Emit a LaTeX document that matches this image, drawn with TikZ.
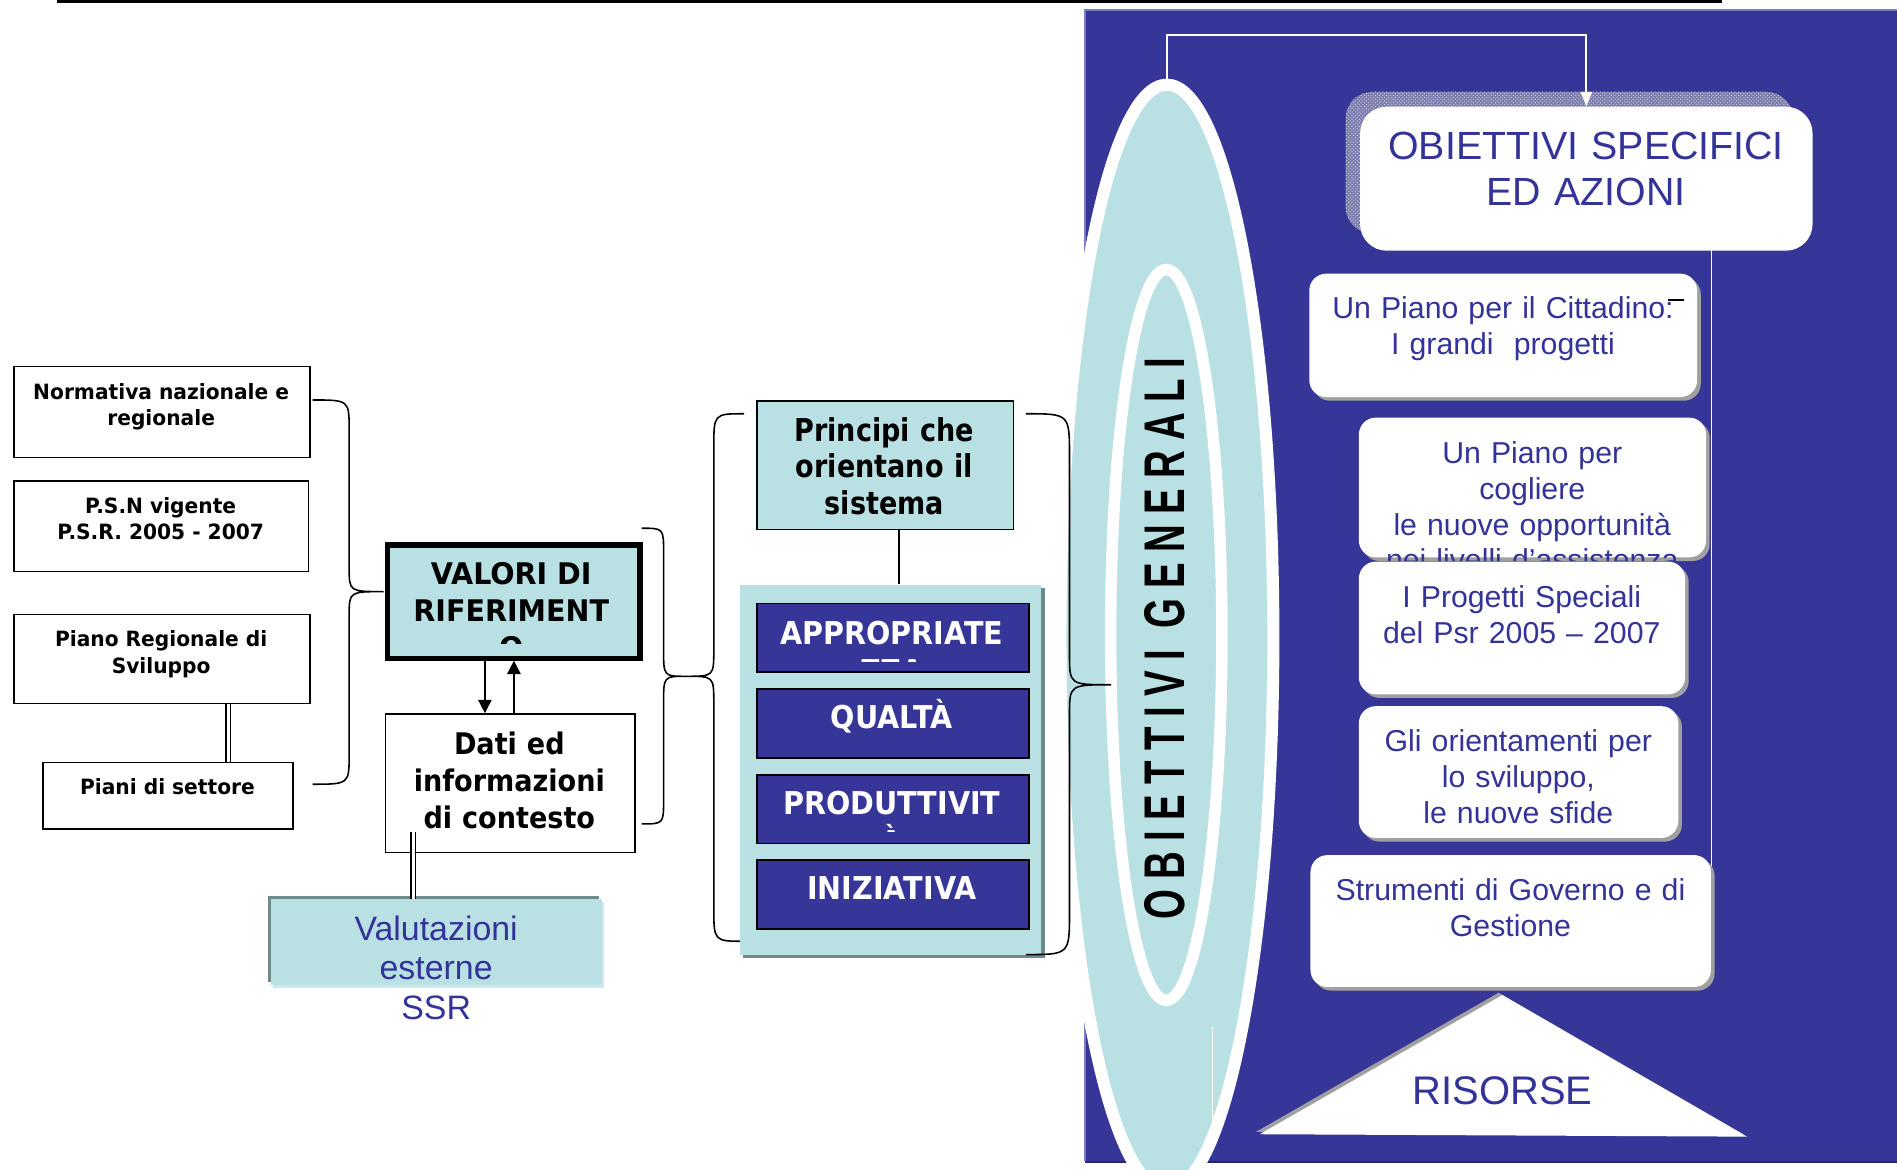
\documentclass[tikz,border=0pt]{standalone}
\usepackage{fontspec}
\setmainfont{Liberation Sans}
\newfontfamily\vbf{DejaVu Sans}[FakeStretch=0.96]
\newfontfamily\mbf{DejaVu Sans}[FakeStretch=0.91]
\newfontfamily\tbf{DejaVu Sans}[FakeStretch=0.86]
\newfontfamily\gbf{Liberation Sans}[FakeStretch=0.67]
\usetikzlibrary{arrows.meta,patterns,shapes.geometric,shadows}
\definecolor{cy}{HTML}{B9E0E3}
\definecolor{pb}{HTML}{363698}
\definecolor{txb}{HTML}{333399}
\definecolor{shd}{HTML}{6E8A8A}
\definecolor{lcy}{HTML}{CDE9EB}
\definecolor{lav}{HTML}{7B7BC0}
\definecolor{osh}{HTML}{7E7EAE}
\definecolor{gsh}{HTML}{A0A0A0}
\definecolor{dkb}{HTML}{26266E}
\newcommand\gk{\kern8.5pt}
\newcommand\mybrace[8]{\draw[brc] (#1,#2) .. controls (#3,#2) .. (#3,{#2+#7}) -- (#3,{#5-#8}) .. controls (#3,#5) .. (#4,#5) .. controls (#3,#5) .. (#3,{#5+#8}) -- (#3,{#6-#7}) .. controls (#3,#6) .. (#1,#6);}
\begin{document}
\begin{tikzpicture}[x=1pt,y=-1pt,
  lbox/.style={draw=black, line width=1.3pt, fill=white, inner sep=0pt, anchor=north west},
  ltxt/.style={font=\vbf\bfseries\fontsize{17.4}{22}\selectfont, align=center, text width=240pt, anchor=base, inner sep=0pt},
  cbox/.style={draw=black, line width=1.3pt, fill=cy, inner sep=0pt, anchor=north west},
  bbox/.style={draw=black, line width=1.5pt, fill=pb, inner sep=0pt, anchor=north west, minimum width=224.5pt, minimum height=57pt},
  btxt/.style={font=\mbf\bfseries\fontsize{26}{32}\selectfont, text=white, align=center, text width=224pt, anchor=base, inner sep=0pt},
  rbox/.style={fill=white, rounded corners=14pt, inner sep=0pt, anchor=north west, drop shadow={shadow xshift=3pt, shadow yshift=-3pt, fill=gsh, opacity=1}},
  rtxt/.style={font=\fontsize{25}{29.5}\selectfont, text=txb, align=center, text width=330pt, anchor=base, inner sep=0pt},
  brc/.style={draw=black, line width=1.3pt},
  dbl/.style={draw=black, double=white, double distance=2.4pt, line width=1.2pt},
  arr/.style={draw=black, line width=1.3pt, -{Triangle[length=11pt,width=11pt]}},
]
\useasboundingbox (0,0) rectangle (1568,967);
\fill[white] (0,0) rectangle (1568,967);
% top rule
\coordinate (tl1) at (47,1.3); \coordinate (tl2) at (1423,1.3);
\draw[line width=2.6pt] (tl1) -- (tl2);

% left boxes
\node[lbox, minimum width=244.4pt, minimum height=75.2pt] (norm) at (11,302.2) {};
\node[ltxt] (normt) at (133.2,330) {Normativa nazionale e\\regionale};
\node[lbox, minimum width=243.5pt, minimum height=74.9pt] (psn) at (11,396.7) {};
\node[ltxt] (psnt) at (132.8,424.2) {P.S.N vigente\\P.S.R. 2005 - 2007};
\node[lbox, minimum width=244.4pt, minimum height=73.3pt] (prs) at (11,507.4) {};
\node[ltxt] (prst) at (133.2,534.7) {Piano Regionale di\\Sviluppo};
\node[lbox, minimum width=206.7pt, minimum height=55.1pt] (pset) at (35,629.5) {};
\node[ltxt] (psett) at (138.4,656.4) {Piani di settore};
\coordinate (dl2) at (188.6,600);
\draw[dbl] (prs.south -| dl2) -- (pset.north -| dl2);
\mybrace{258.3}{330.6}{288.6}{317}{489}{648.2}{25}{20}

% valori
\node[draw=black, line width=4.2pt, fill=cy, inner sep=0pt, anchor=north west, minimum width=208.5pt, minimum height=93.5pt] (val) at (318.4,448.4) {};
\begin{scope}
\clip (321,451) rectangle (524,531.5);
\node[font=\vbf\bfseries\fontsize{24.6}{30.3}\selectfont, align=center, text width=206pt, anchor=base, inner sep=0pt] (valt) at (422.6,483.5) {VALORI DI\\RIFERIMENT\\O};
\end{scope}
\node[lbox, minimum width=206pt, minimum height=114.5pt] (dati) at (318,589.5) {};
\node[font=\mbf\bfseries\fontsize{24.6}{30.3}\selectfont, align=center, text width=206pt, anchor=base, inner sep=0pt] (datit) at (421,624) {Dati ed\\informazioni\\di contesto};
\coordinate (a1) at (400.8,0); \coordinate (a2) at (424.8,0);
\draw[arr] (val.south -| a1) -- (dati.north -| a1);
\draw[arr] (dati.north -| a2) -- (val.south -| a2);

% valutazioni
\fill[shd] (221.8,740.5) rectangle (495,811.8);
\fill[lcy] (226,745.5) rectangle (499,816.5);
\node[fill=cy, inner sep=0pt, anchor=north west, minimum width=273.3pt, minimum height=71pt] (valu) at (224,743) {};
\node[font=\fontsize{28}{33}\selectfont, text=txb, align=center, text width=273pt, anchor=base, inner sep=0pt] (valut) at (360.5,777) {Valutazioni\\esterne\\SSR};
\coordinate (dl1) at (341.7,688);
\draw[dbl] (dl1) -- (dl1 |- valu.north);

\mybrace{530.3}{436.6}{548.5}{567}{559}{681}{20}{22}
\mybrace{615}{342}{590}{567}{559}{778}{28}{22}

% principi
\node[cbox, minimum width=212pt, minimum height=106pt] (princ) at (625,331) {};
\node[font=\tbf\bfseries\fontsize{26}{30}\selectfont, align=center, text width=212pt, anchor=base, inner sep=0pt] (princt) at (731,365) {Principi che\\orientano il\\sistema};
\fill[shd] (614.5,486) rectangle (863.5,792);
\node[fill=cy, inner sep=0pt, anchor=north west, minimum width=249pt, minimum height=306pt] (pan) at (611.5,483) {};
\coordinate (pl) at (743,0);
\draw[line width=1.3pt] (princ.south -| pl) -- (pan.north -| pl);
\node[bbox] (b1) at (625,498) {};
\node[bbox] (b2) at (625,568.5) {};
\node[bbox] (b3) at (625,639.5) {};
\node[bbox] (b4) at (625,710) {};
\begin{scope}\clip (625,498) rectangle (849.5,547);
\node[btxt] (b1t) at (737.2,532.3) {APPROPRIATE\\ZZA};
\end{scope}
\node[btxt] (b2t) at (737.2,602) {QUALTÀ};
\begin{scope}\clip (625,639.5) rectangle (849.5,687.5);
\node[btxt] (b3t) at (737.2,673.6) {PRODUTTIVIT\\À};
\end{scope}
\node[btxt] (b4t) at (737.2,743.6) {INIZIATIVA};

% right panel
\node[fill=pb, inner sep=0pt, anchor=north west, minimum width=680pt, minimum height=951pt] (blue) at (897,8.5) {};
\draw[lav, line width=2pt] (897,959.5) -- (897,8.5) -- (1570,8.5);
\draw[dkb, line width=2pt] (897,960.5) -- (1570,960.5);

% obiettivi specifici
\node[fill=osh, rounded corners=22pt, inner sep=0pt, anchor=north west, minimum width=370pt, minimum height=117pt] (oss) at (1112,75.8) {};
\fill[pattern=crosshatch dots, pattern color=white!65!osh, rounded corners=22pt] (1112,75.8) rectangle (1482,192.8);
\node[fill=white, rounded corners=22pt, inner sep=0pt, anchor=north west, minimum width=374pt, minimum height=119pt] (os) at (1124,88) {};
\node[font=\fontsize{32.5}{38}\selectfont, text=txb, align=center, text width=374pt, anchor=base, inner sep=0pt] (ost) at (1311,132.2) {OBIETTIVI SPECIFICI\\ED AZIONI};
\coordinate (vt) at (1414.7,207); \coordinate (vb) at (1414.7,767);
\draw[white, line width=1.2pt] (vt) -- (vb);

% right boxes
\node[rbox, minimum width=320.6pt, minimum height=102pt] (r1) at (1082,226) {};
\node[rtxt] (r1t) at (1242.3,263.3) {Un Piano per il Cittadino:\\I grandi~ progetti};
\draw[line width=1.5pt] (1379,248) -- (1392,248);
\node[rbox, minimum width=287pt, minimum height=115.5pt] (r2) at (1123,345) {};
\node[rtxt] (r2t) at (1266.5,383.4) {Un Piano per\\cogliere\\le nuove opportunità\\nei livelli d’assistenza};
\node[rbox, minimum width=269.6pt, minimum height=109.7pt] (r3) at (1123,464) {};
\node[rtxt] (r3t) at (1257.8,502) {I Progetti Speciali\\del Psr 2005 – 2007};
\node[rbox, minimum width=264pt, minimum height=108.9pt] (r4) at (1123,583.5) {};
\node[rtxt] (r4t) at (1255,621.3) {Gli orientamenti per\\lo sviluppo,\\le nuove sfide};
\node[rbox, minimum width=331pt, minimum height=109pt] (r5) at (1083,706.6) {};
\node[rtxt] (r5t) at (1248.5,744.5) {Strumenti di Governo e di\\Gestione};

% risorse
\fill[gsh] (1238.7,820.5) -- (1038.3,935.5) -- (1441,937.5) -- cycle;
\coordinate (tA) at (1241.7,822.5); \coordinate (tB) at (1041.3,937.5); \coordinate (tC) at (1444,939.5);
\fill[white] (tA) -- (tB) -- (tC) -- cycle;
\node[font=\fontsize{33}{38}\selectfont, text=txb, anchor=base, inner sep=0pt] (ris) at (1242,912.7) {RISORSE};

% ellipses
\node[ellipse, draw=white, line width=10pt, fill=cy, inner sep=0pt, minimum width=176pt, minimum height=914pt] (og) at (964.5,527) {};
\draw[white, line width=1.2pt] (1002.2,848.5) -- (1002.2,925.6);
\node[ellipse, draw=white, line width=9.5pt, fill=cy, inner sep=0pt, minimum width=92pt, minimum height=604pt] (ogi) at (964,524.8) {};
\node[rotate=90, font=\gbf\bfseries\fontsize{47.4}{50}\selectfont, inner sep=0pt] (ogt) at (963,528) {O\gk B\gk I\gk E\gk T\gk T\gk I\gk V\gk I\ \gk G\gk E\gk N\gk E\gk R\gk A\gk L\gk I};
\draw[white, line width=1.8pt, -{Triangle[length=12pt,width=9pt]}] (og.north) -- ++(0,-36) -| (os.north);

\mybrace{848}{342}{884}{918.5}{566}{789}{35}{25}
\end{tikzpicture}
\end{document}
